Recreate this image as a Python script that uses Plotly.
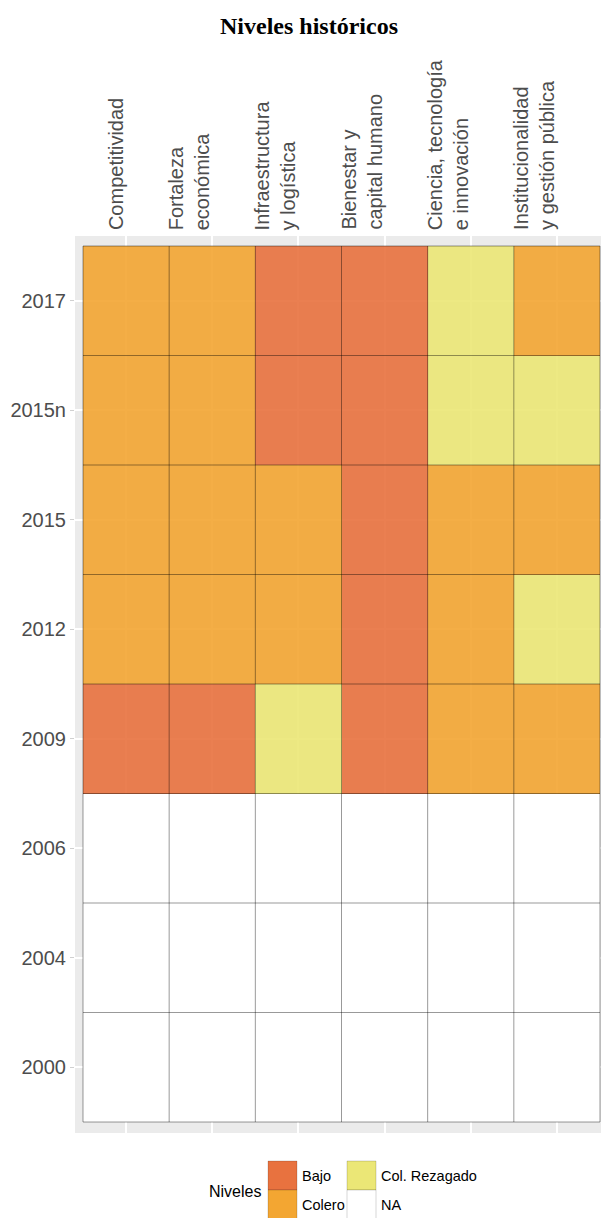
import plotly.graph_objects as go

# Pillars (columns) and edition years (rows, top to bottom)
pilares = [
    "Competitividad",
    "Fortaleza<br>económica",
    "Infraestructura<br>y logística",
    "Bienestar y<br>capital humano",
    "Ciencia, tecnología<br>e innovación",
    "Institucionalidad<br>y gestión pública",
]
anios = ["2017", "2015n", "2015", "2012", "2009", "2006", "2004", "2000"]

# Level per year and pillar (None = NA)
niveles_2017 = ["Colero", "Colero", "Bajo", "Bajo", "Col. Rezagado", "Colero"]
niveles_2015n = ["Colero", "Colero", "Bajo", "Bajo", "Col. Rezagado", "Col. Rezagado"]
niveles_2015 = ["Colero", "Colero", "Colero", "Bajo", "Colero", "Colero"]
niveles_2012 = ["Colero", "Colero", "Colero", "Bajo", "Colero", "Col. Rezagado"]
niveles_2009 = ["Bajo", "Bajo", "Col. Rezagado", "Bajo", "Colero", "Colero"]
niveles_2006 = [None] * 6
niveles_2004 = [None] * 6
niveles_2000 = [None] * 6

filas = [niveles_2017, niveles_2015n, niveles_2015, niveles_2012,
         niveles_2009, niveles_2006, niveles_2004, niveles_2000]

categorias = ["Bajo", "Colero", "Col. Rezagado"]
colores = {"Bajo": "#E8723F", "Colero": "#F3A632", "Col. Rezagado": "#EBE776"}
color_na = "#FFFFFF"

# ---- geometry (pixels) ----
W, H = 601, 1218
ML, MR, MT, MB = 75, 0, 236, 85
PW, PH = W - ML - MR, H - MT - MB

n_x, n_y = len(pilares), len(anios)
x_idx = list(range(n_x))

codigo = {c: i for i, c in enumerate(categorias)}
z_col, z_na = [], []
for r in range(n_y - 1, -1, -1):  # from bottom row (2000) upward
    fila = filas[r]
    z_col.append([codigo[v] if v is not None else None for v in fila])
    z_na.append([1 if v is None else None for v in fila])
y_vals = list(range(n_y))
y_text = anios[::-1]

def escala_discreta(cols):
    n = len(cols)
    cs = []
    for i, c in enumerate(cols):
        cs.append([i / n, c])
        cs.append([(i + 1) / n, c])
    return cs

fig = go.Figure()
fig.add_trace(go.Heatmap(
    x=x_idx, y=y_vals, z=z_na,
    colorscale=[[0, color_na], [1, color_na]],
    showscale=False, hoverinfo="skip",
))
fig.add_trace(go.Heatmap(
    x=x_idx, y=y_vals, z=z_col,
    zmin=-0.5, zmax=len(categorias) - 0.5,
    colorscale=escala_discreta([colores[c] for c in categorias]),
    showscale=False, opacity=0.9,
    hovertemplate="%{z}<extra></extra>",
))

# tile borders
borde = dict(color="rgba(0,0,0,0.4)", width=1)
shapes = []
for i in range(n_x + 1):
    shapes.append(dict(type="line", xref="x", yref="y", x0=i - 0.5, x1=i - 0.5,
                       y0=-0.5, y1=n_y - 0.5, line=borde, layer="above"))
for j in range(n_y + 1):
    shapes.append(dict(type="line", xref="x", yref="y", x0=-0.5, x1=n_x - 0.5,
                       y0=j - 0.5, y1=j - 0.5, line=borde, layer="above"))

# axis ranges with a small padding around the tiles
x_unit = (600 - 83) / n_x
y_unit = (1122 - 246) / n_y
x_range = [-0.5 - (83 - ML) / x_unit, n_x - 0.5 + (W - MR - 600) / x_unit]
y_range = [-0.5 - (H - MB - 1122) / y_unit, n_y - 0.5 + (246 - MT) / y_unit]

fuente = "Liberation Sans, Arial, sans-serif"
annotations = []
for i, p in enumerate(pilares):
    annotations.append(dict(
        x=i, y=1, xref="x", yref="paper", text=p, showarrow=False,
        textangle=-90, xanchor="right", yanchor="bottom", align="left",
        yshift=4, xshift=3,
        font=dict(family=fuente, size=20, color="#4D4D4D"),
    ))

# legend (2 x 2, filled by column)
def px_x(v):
    return (v - ML) / PW

def px_y(v):
    return (H - MB - v) / PH

key = 29
leg_x0 = [268, 268, 347, 347]
leg_y0 = [1161, 1190, 1161, 1190]
leg_lab = categorias[:2] + [categorias[2], "NA"]
leg_col = [colores["Bajo"], colores["Colero"], colores["Col. Rezagado"], color_na]
for lx, ly, lab, col in zip(leg_x0, leg_y0, leg_lab, leg_col):
    shapes.append(dict(type="rect", xref="paper", yref="paper",
                       x0=px_x(lx), x1=px_x(lx + key), y0=px_y(ly + key), y1=px_y(ly),
                       fillcolor=col, line=dict(color="rgba(0,0,0,0.16)", width=1),
                       layer="above"))
    annotations.append(dict(x=px_x(lx + key + 3), y=px_y(ly + key / 2),
                            xref="paper", yref="paper", text=lab, showarrow=False,
                            xanchor="left", yanchor="middle",
                            font=dict(family=fuente, size=14.5, color="#000000")))
annotations.append(dict(x=px_x(263), y=px_y(1191), xref="paper", yref="paper",
                        text="Niveles", showarrow=False, xanchor="right", yanchor="middle",
                        font=dict(family=fuente, size=16, color="#000000")))

fig.update_layout(
    width=W, height=H,
    margin=dict(l=ML, r=MR, t=MT, b=MB, autoexpand=False),
    paper_bgcolor="white", plot_bgcolor="#EBEBEB",
    title=dict(text="<b>Niveles históricos</b>", xref="container", yref="container",
               x=309 / W, xanchor="center", y=1 - 26 / H, yanchor="middle",
               font=dict(family="Liberation Serif, Times New Roman, serif", size=24, color="black")),
    shapes=shapes, annotations=annotations, showlegend=False,
)
fig.update_xaxes(range=x_range, tickvals=x_idx, showticklabels=False, ticks="",
                 showgrid=True, gridcolor="white", gridwidth=1.5, zeroline=False,
                 showline=False, automargin=False, fixedrange=True)
fig.update_yaxes(range=y_range, tickvals=y_vals, ticktext=y_text, ticks="outside",
                 ticklen=4, tickcolor="#D0D0D0", tickwidth=1.2,
                 tickfont=dict(family=fuente, size=20, color="#4D4D4D"),
                 showgrid=True, gridcolor="white", gridwidth=1.5, zeroline=False,
                 showline=False, automargin=False, fixedrange=True)

fig.write_html("out.html")
